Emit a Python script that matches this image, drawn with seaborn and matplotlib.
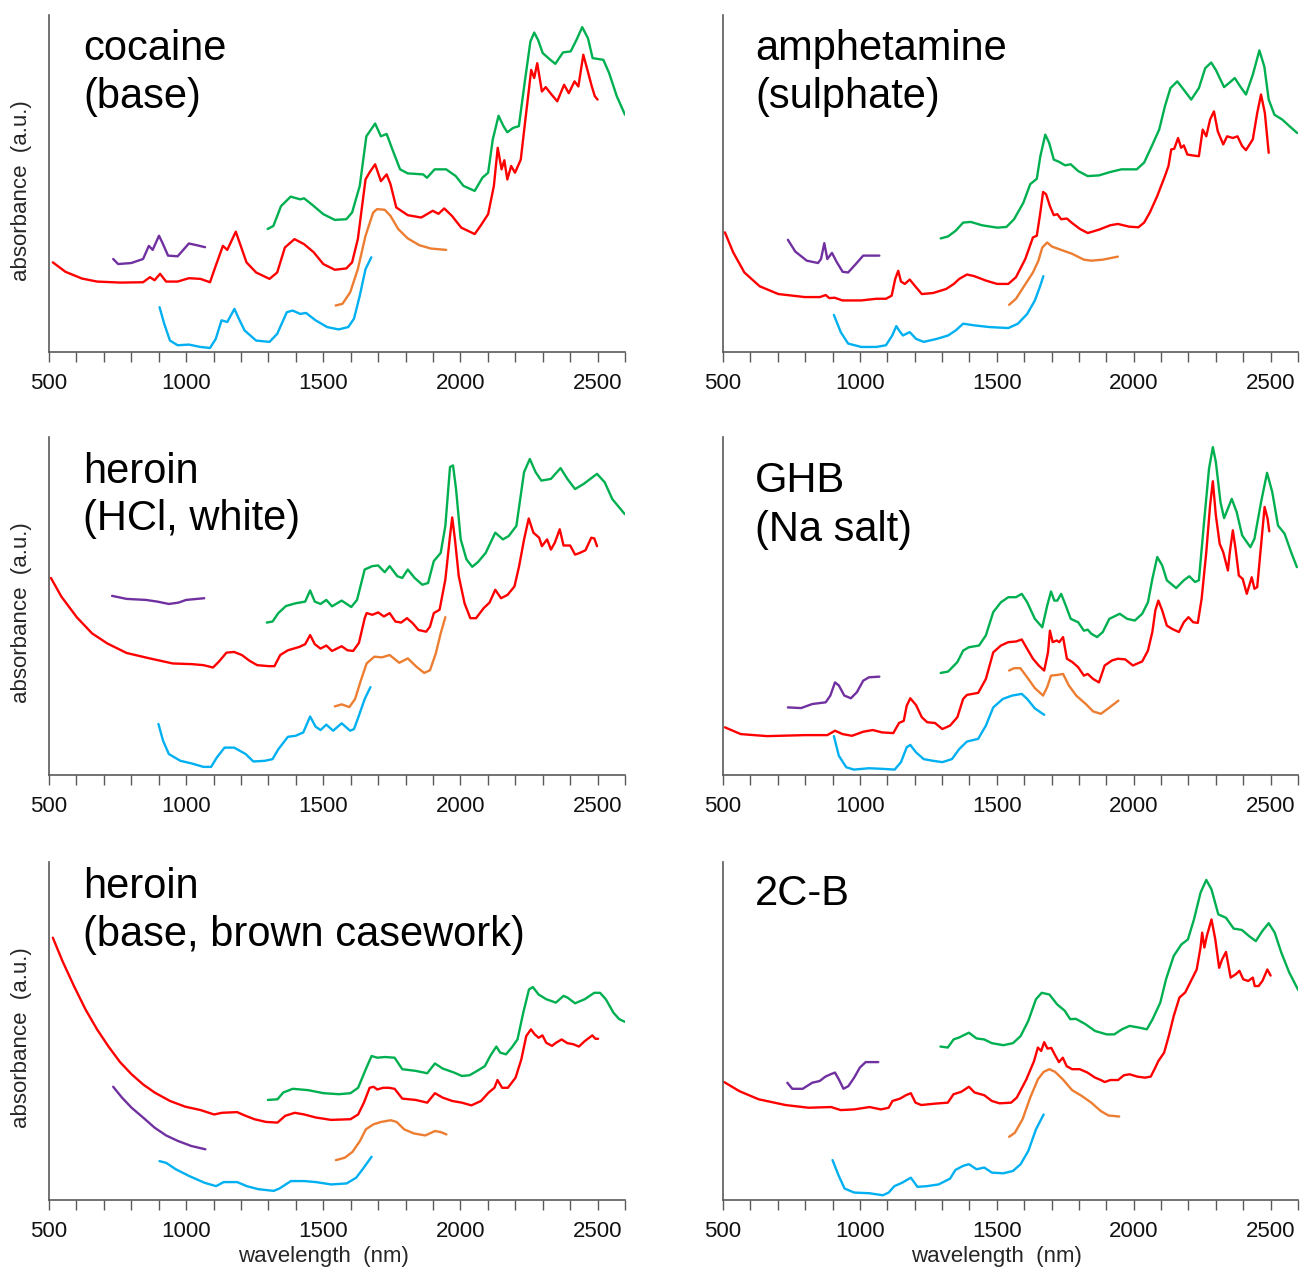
import matplotlib
matplotlib.use("Agg")
import matplotlib.pyplot as plt
from matplotlib.ticker import MultipleLocator
import pandas as pd
import seaborn as sns

# ---------------------------------------------------------------- cocaine (base)
coc_purple_wl = [734, 752, 800, 843, 864, 878, 901, 913, 934, 969, 1010, 1038, 1069]
coc_purple_ab = [27.6, 26.1, 26.4, 27.6, 31.5, 30.3, 34.5, 32.5, 28.6, 28.4, 32.2, 31.7, 31.1]
coc_red_wl = [514, 560, 620, 675, 760, 843, 868, 885, 905, 927, 969, 1010, 1052, 1087, 1108, 1134, 1150, 1181,
              1199, 1220, 1255, 1304, 1332, 1360, 1395, 1430, 1465, 1500, 1542, 1584, 1605, 1626, 1654, 1668,
              1689, 1710, 1731, 1745, 1766, 1808, 1857, 1899, 1920, 1941, 1969, 2003, 2052, 2073, 2101, 2122,
              2136, 2150, 2160, 2171, 2185, 2199, 2220, 2234, 2258, 2269, 2280, 2297, 2311, 2332, 2353, 2378,
              2395, 2416, 2430, 2448, 2458, 2479, 2490, 2500]
coc_red_ab = [26.6, 23.8, 21.8, 20.9, 20.6, 20.7, 22.2, 21.3, 23.2, 20.9, 20.9, 21.9, 21.7, 20.7, 25.6, 31.5,
              30.3, 35.7, 31.5, 26.6, 23.6, 21.7, 23.6, 31.0, 33.5, 32.0, 29.6, 26.1, 24.4, 24.8, 26.6, 33.5,
              51.2, 53.2, 55.7, 50.7, 52.7, 49.8, 42.9, 40.6, 39.9, 41.9, 41.0, 42.6, 40.4, 36.9, 35.0, 37.4,
              40.9, 49.3, 60.6, 54.2, 56.9, 51.2, 55.2, 53.2, 57.1, 67.0, 83.7, 81.3, 85.7, 77.3, 78.6, 76.4,
              74.4, 79.3, 76.8, 80.3, 78.8, 88.2, 85.2, 78.8, 75.9, 74.9]
coc_green_wl = [1297, 1318, 1346, 1381, 1416, 1430, 1458, 1500, 1542, 1584, 1605, 1633, 1657, 1689, 1710, 1731,
                1752, 1780, 1808, 1864, 1878, 1906, 1948, 1983, 2011, 2052, 2080, 2101, 2118, 2139, 2157, 2171,
                2192, 2213, 2234, 2255, 2269, 2283, 2300, 2325, 2346, 2374, 2402, 2423, 2444, 2465, 2482, 2521,
                2542, 2570, 2600]
coc_green_ab = [36.5, 37.4, 43.3, 46.1, 45.3, 45.6, 43.8, 40.9, 39.2, 39.4, 41.4, 49.3, 64.0, 67.8, 64.0, 64.7,
                60.1, 54.2, 53.0, 52.7, 51.7, 54.2, 54.2, 52.2, 49.3, 47.8, 51.7, 53.2, 63.1, 70.1, 67.0, 65.2,
                66.5, 67.0, 79.8, 92.1, 94.8, 92.6, 88.7, 86.9, 85.5, 88.9, 89.2, 92.6, 96.4, 93.1, 87.2, 86.7,
                82.8, 75.9, 70.4]
coc_orange_wl = [1545, 1570, 1598, 1626, 1654, 1682, 1696, 1724, 1745, 1773, 1808, 1850, 1892, 1948]
coc_orange_ab = [13.8, 14.3, 17.7, 24.6, 34.5, 41.4, 42.4, 42.2, 40.4, 36.5, 33.7, 31.7, 30.7, 30.3]
coc_blue_wl = [903, 920, 941, 969, 1010, 1052, 1087, 1108, 1129, 1150, 1176, 1192, 1213, 1255, 1304, 1332, 1367,
               1388, 1416, 1437, 1472, 1514, 1556, 1591, 1612, 1633, 1654, 1675]
coc_blue_ab = [13.3, 8.4, 3.4, 2.0, 2.2, 1.5, 1.2, 3.9, 9.4, 8.9, 12.8, 9.9, 6.4, 3.4, 3.0, 5.4, 11.8, 12.3, 11.3,
               11.6, 9.4, 7.4, 6.7, 7.4, 9.9, 16.7, 24.6, 28.1]

# ---------------------------------------------------------- amphetamine (sulphate)
amp_purple_wl = [737, 764, 806, 847, 858, 870, 881, 898, 916, 937, 957, 985, 1012, 1071]
amp_purple_ab = [33.3, 29.8, 27.1, 26.4, 27.6, 32.3, 27.6, 29.4, 26.6, 23.8, 23.6, 26.1, 28.6, 28.6]
amp_red_wl = [507, 537, 578, 634, 702, 799, 854, 875, 888, 908, 936, 1005, 1060, 1095, 1116, 1129, 1140, 1150,
              1164, 1182, 1198, 1226, 1267, 1315, 1343, 1363, 1391, 1418, 1460, 1501, 1542, 1570, 1604, 1632,
              1646, 1659, 1669, 1680, 1694, 1708, 1721, 1735, 1756, 1776, 1804, 1832, 1873, 1914, 1942, 1983,
              2017, 2038, 2059, 2086, 2114, 2127, 2137, 2148, 2162, 2173, 2183, 2196, 2217, 2238, 2252, 2265,
              2279, 2293, 2307, 2327, 2341, 2362, 2379, 2396, 2410, 2435, 2451, 2465, 2479, 2493]
amp_red_ab = [35.5, 29.6, 23.6, 19.5, 17.2, 16.3, 16.3, 16.9, 16.0, 16.1, 15.3, 15.3, 15.8, 15.8, 16.7, 21.7,
              24.1, 20.9, 20.2, 21.5, 19.9, 17.2, 17.5, 18.7, 20.2, 21.7, 23.0, 22.5, 21.2, 20.2, 20.2, 22.2,
              27.6, 34.0, 34.5, 41.4, 47.5, 46.8, 43.3, 40.6, 40.9, 39.4, 39.6, 38.2, 36.5, 35.3, 36.3, 37.6,
              38.0, 37.2, 37.0, 38.4, 41.4, 46.3, 52.2, 55.2, 60.1, 60.3, 63.5, 60.6, 61.3, 58.6, 58.3, 58.1,
              66.0, 64.0, 69.0, 71.4, 65.5, 61.6, 64.0, 63.5, 64.0, 61.1, 59.9, 63.1, 70.9, 76.4, 70.9, 59.1]
amp_green_wl = [1295, 1322, 1350, 1377, 1405, 1446, 1501, 1535, 1563, 1597, 1622, 1646, 1659, 1677, 1691, 1708,
                1728, 1749, 1770, 1797, 1832, 1873, 1914, 1955, 2011, 2038, 2066, 2093, 2114, 2134, 2159, 2183,
                2210, 2238, 2261, 2283, 2300, 2330, 2348, 2369, 2389, 2410, 2435, 2459, 2477, 2493, 2514, 2542,
                2569, 2597]
amp_green_ab = [33.7, 34.3, 36.0, 38.4, 38.6, 37.6, 36.9, 37.1, 39.4, 44.3, 49.8, 51.4, 58.1, 64.5, 62.1, 57.1,
                56.4, 55.4, 55.7, 53.7, 52.2, 52.4, 53.4, 54.2, 54.2, 56.2, 61.1, 66.0, 72.9, 78.3, 80.3, 77.8,
                74.9, 78.3, 84.2, 85.9, 83.7, 78.6, 79.8, 81.3, 78.8, 76.4, 82.3, 89.5, 84.7, 74.9, 70.4, 69.0,
                67.0, 65.0]
amp_orange_wl = [1545, 1570, 1597, 1632, 1652, 1666, 1684, 1701, 1735, 1776, 1818, 1845, 1887, 1942]
amp_orange_ab = [14.0, 15.8, 19.2, 23.6, 27.1, 31.0, 32.5, 31.3, 30.3, 29.1, 27.4, 27.1, 27.4, 28.3]
amp_blue_wl = [905, 930, 957, 1005, 1060, 1095, 1118, 1133, 1143, 1157, 1182, 1205, 1233, 1281, 1322, 1350, 1377,
               1418, 1473, 1542, 1577, 1611, 1639, 1659, 1670]
amp_blue_ab = [11.0, 5.9, 2.5, 1.5, 1.5, 2.0, 4.9, 7.7, 6.4, 4.9, 5.9, 3.9, 3.0, 3.9, 4.9, 6.4, 8.4, 7.9, 7.4,
               7.1, 8.4, 11.3, 15.3, 19.7, 22.5]

# ----------------------------------------------------------- heroin (HCl, white)
hhc_purple_wl = [730, 783, 853, 895, 937, 972, 1000, 1066]
hhc_purple_ab = [53.0, 52.1, 51.8, 51.3, 50.6, 51.0, 51.8, 52.3]
hhc_red_wl = [507, 545, 601, 657, 713, 783, 867, 951, 1021, 1063, 1098, 1119, 1147, 1175, 1203, 1231, 1259, 1301,
              1322, 1343, 1371, 1413, 1434, 1452, 1469, 1490, 1511, 1532, 1567, 1588, 1609, 1630, 1651, 1658,
              1679, 1700, 1721, 1742, 1763, 1784, 1805, 1826, 1847, 1875, 1889, 1903, 1924, 1945, 1962, 1970,
              1980, 1994, 2015, 2036, 2057, 2085, 2106, 2127, 2148, 2172, 2197, 2214, 2232, 2249, 2266, 2287,
              2297, 2316, 2330, 2344, 2362, 2376, 2400, 2418, 2435, 2456, 2477, 2488, 2498]
hhc_red_ab = [58.3, 52.8, 46.7, 41.9, 38.9, 36.1, 34.5, 33.0, 32.8, 32.5, 31.8, 33.5, 36.2, 36.4, 35.5, 33.8,
              32.5, 32.2, 32.2, 35.5, 36.9, 37.9, 38.7, 41.4, 38.7, 37.4, 38.3, 36.7, 38.1, 36.9, 36.7, 39.1,
              46.4, 47.9, 47.4, 48.1, 46.9, 47.9, 45.4, 45.1, 46.4, 44.9, 42.9, 42.4, 43.9, 47.9, 48.9, 57.8,
              70.7, 76.2, 69.7, 58.8, 50.8, 46.4, 46.4, 49.4, 51.0, 54.8, 52.3, 53.3, 55.8, 61.8, 69.7, 75.9,
              71.7, 70.2, 67.7, 69.7, 66.7, 68.7, 72.7, 67.9, 67.9, 65.2, 65.7, 66.5, 70.2, 70.0, 67.7]
hhc_green_wl = [1294, 1315, 1336, 1364, 1399, 1434, 1452, 1469, 1490, 1511, 1532, 1567, 1602, 1623, 1651, 1679,
                1700, 1724, 1742, 1770, 1788, 1808, 1833, 1861, 1882, 1903, 1928, 1945, 1962, 1973, 1984, 2001,
                2022, 2043, 2064, 2092, 2127, 2155, 2176, 2204, 2232, 2253, 2274, 2295, 2330, 2365, 2390, 2418,
                2449, 2498, 2526, 2554, 2599]
hhc_green_ab = [45.1, 45.4, 47.9, 50.0, 50.8, 51.3, 54.6, 51.3, 50.6, 51.8, 49.9, 51.6, 49.7, 51.8, 60.8, 61.8,
                62.0, 60.0, 61.8, 58.8, 58.3, 60.8, 58.3, 56.3, 56.8, 63.3, 65.7, 73.7, 91.1, 91.6, 84.6, 69.7,
                63.8, 61.6, 63.0, 65.7, 71.7, 69.7, 70.7, 73.7, 89.6, 93.5, 89.6, 87.1, 87.6, 90.8, 87.6, 84.6,
                86.1, 89.1, 86.6, 81.6, 77.2]
hhc_orange_wl = [1542, 1567, 1595, 1616, 1637, 1658, 1686, 1714, 1742, 1777, 1808, 1840, 1868, 1889, 1910, 1928,
                 1945]
hhc_orange_ab = [20.3, 20.9, 20.1, 22.5, 28.0, 33.0, 35.0, 34.8, 35.5, 33.2, 34.5, 32.0, 30.2, 31.0, 35.9, 41.9,
                 46.7]
hhc_blue_wl = [899, 916, 937, 979, 1021, 1063, 1091, 1112, 1140, 1175, 1217, 1245, 1287, 1315, 1336, 1371, 1399,
               1427, 1452, 1472, 1490, 1511, 1536, 1567, 1598, 1612, 1630, 1651, 1672]
hhc_blue_ab = [15.1, 10.1, 6.2, 4.2, 3.4, 2.4, 2.4, 5.2, 8.1, 8.1, 6.2, 4.0, 4.2, 4.7, 7.6, 11.3, 11.6, 12.6, 17.3,
               14.3, 13.3, 14.9, 13.1, 15.3, 13.1, 13.6, 17.6, 22.5, 26.0]

# --------------------------------------------------------------- GHB (Na salt)
ghb_purple_wl = [737, 785, 826, 875, 892, 909, 923, 943, 967, 989, 1012, 1033, 1071]
ghb_purple_ab = [20.0, 19.8, 21.0, 21.5, 23.5, 27.4, 26.5, 23.5, 22.7, 24.5, 27.9, 28.9, 29.1]
ghb_red_wl = [507, 565, 661, 799, 881, 909, 937, 971, 1012, 1047, 1081, 1122, 1143, 1160, 1171, 1184, 1205, 1226,
              1246, 1274, 1301, 1329, 1356, 1377, 1391, 1432, 1460, 1487, 1515, 1542, 1570, 1591, 1611, 1632,
              1653, 1673, 1687, 1694, 1704, 1719, 1728, 1742, 1756, 1776, 1797, 1818, 1832, 1852, 1873, 1894,
              1921, 1942, 1969, 1997, 2031, 2052, 2068, 2079, 2090, 2104, 2121, 2141, 2165, 2183, 2200, 2217,
              2234, 2248, 2265, 2279, 2289, 2300, 2314, 2327, 2344, 2351, 2362, 2372, 2384, 2398, 2413, 2431,
              2441, 2451, 2465, 2478, 2489, 2495]
ghb_red_ab = [14.1, 12.1, 11.5, 11.8, 11.8, 13.1, 12.1, 11.6, 12.8, 13.3, 12.6, 12.4, 15.4, 16.0, 20.5, 22.7,
              20.7, 17.1, 15.6, 15.4, 13.6, 14.6, 17.1, 22.5, 23.7, 24.3, 28.4, 36.3, 38.3, 39.3, 39.5, 40.1,
              37.3, 34.4, 32.4, 30.9, 36.3, 42.7, 39.3, 39.8, 39.3, 40.8, 34.4, 33.4, 31.9, 29.4, 29.9, 28.4,
              27.4, 32.4, 33.9, 34.4, 34.2, 32.4, 33.6, 36.8, 42.3, 48.7, 51.6, 48.7, 44.2, 43.2, 42.3, 45.2,
              46.7, 45.2, 45.0, 52.1, 65.9, 79.8, 86.9, 76.8, 68.4, 65.9, 60.5, 65.9, 72.4, 66.9, 59.0, 58.0,
              53.6, 58.5, 55.1, 55.6, 67.9, 79.3, 75.8, 72.1]
ghb_green_wl = [1295, 1322, 1356, 1377, 1398, 1435, 1460, 1487, 1515, 1542, 1570, 1591, 1611, 1639, 1666, 1684,
                1698, 1710, 1721, 1735, 1752, 1770, 1797, 1818, 1832, 1845, 1866, 1887, 1911, 1949, 1976, 2004,
                2031, 2052, 2068, 2086, 2104, 2121, 2155, 2183, 2203, 2224, 2238, 2258, 2275, 2289, 2300, 2317,
                2330, 2344, 2358, 2376, 2396, 2426, 2441, 2465, 2487, 2506, 2527, 2551, 2575, 2596]
ghb_green_ab = [30.2, 30.6, 33.4, 36.8, 37.8, 38.3, 41.3, 48.2, 51.1, 52.6, 52.6, 53.6, 51.1, 46.2, 43.7, 50.1,
                54.3, 51.6, 51.6, 53.6, 50.1, 46.2, 45.2, 42.7, 43.0, 41.8, 40.8, 42.3, 46.2, 47.7, 46.2, 45.7,
                47.7, 51.1, 58.0, 64.5, 62.0, 57.6, 55.3, 57.6, 58.8, 57.1, 57.6, 75.8, 90.6, 97.0, 92.6, 80.7,
                76.0, 78.8, 81.7, 77.8, 70.9, 67.4, 69.9, 80.7, 89.4, 83.7, 73.8, 71.4, 65.9, 61.5]
ghb_orange_wl = [1545, 1563, 1586, 1611, 1639, 1669, 1684, 1698, 1721, 1742, 1763, 1790, 1825, 1852, 1880, 1907,
                 1944]
ghb_orange_ab = [30.9, 31.6, 31.6, 28.9, 25.7, 23.5, 26.0, 29.4, 29.6, 29.9, 26.5, 23.5, 21.0, 18.8, 18.1, 19.7,
                 22.0]
ghb_blue_wl = [905, 923, 950, 978, 1033, 1088, 1127, 1150, 1171, 1184, 1205, 1233, 1267, 1301, 1336, 1363, 1391,
               1432, 1460, 1487, 1522, 1556, 1591, 1611, 1639, 1673]
ghb_blue_ab = [11.5, 5.7, 2.3, 1.6, 2.0, 1.8, 1.6, 3.8, 8.2, 8.9, 6.7, 4.7, 4.2, 3.8, 4.7, 7.7, 9.9, 10.7, 14.6,
               20.0, 22.5, 23.5, 24.0, 22.5, 19.7, 17.8]

# ---------------------------------------------- heroin (base, brown casework)
hbb_purple_wl = [734, 766, 801, 843, 885, 927, 969, 1018, 1070]
hbb_purple_ab = [33.5, 30.3, 27.3, 24.4, 21.4, 19.1, 17.5, 16.0, 15.0]
hbb_red_wl = [514, 549, 591, 633, 675, 717, 759, 801, 843, 885, 941, 997, 1053, 1102, 1130, 1186, 1214, 1249,
              1291, 1333, 1361, 1396, 1431, 1473, 1529, 1599, 1627, 1648, 1669, 1683, 1697, 1718, 1739, 1760,
              1788, 1837, 1879, 1907, 1935, 1970, 2005, 2040, 2075, 2103, 2124, 2135, 2152, 2173, 2201, 2222,
              2240, 2257, 2271, 2285, 2299, 2313, 2334, 2348, 2369, 2390, 2411, 2432, 2453, 2481, 2492, 2502]
hbb_red_ab = [77.6, 70.7, 63.3, 56.4, 50.5, 45.4, 40.8, 37.2, 34.2, 31.8, 29.3, 27.6, 26.6, 25.3, 25.8, 26.0,
              25.0, 23.9, 23.1, 22.9, 24.9, 25.8, 25.3, 24.4, 23.7, 23.9, 25.3, 28.8, 33.2, 33.5, 32.7, 33.2,
              33.2, 32.9, 30.0, 29.6, 28.8, 31.6, 30.3, 29.3, 28.8, 28.0, 29.3, 31.8, 33.2, 35.5, 33.2, 33.2,
              36.2, 41.6, 48.5, 50.5, 49.0, 48.0, 48.7, 46.5, 45.6, 46.5, 47.5, 46.4, 46.1, 45.4, 47.0, 48.7,
              47.7, 47.7]
hbb_green_wl = [1298, 1333, 1354, 1389, 1445, 1501, 1557, 1599, 1627, 1655, 1676, 1697, 1725, 1760, 1788, 1837,
                1879, 1907, 1935, 1977, 2005, 2033, 2061, 2089, 2110, 2131, 2145, 2166, 2187, 2208, 2229, 2250,
                2264, 2285, 2313, 2348, 2376, 2390, 2418, 2453, 2488, 2509, 2530, 2558, 2579, 2600]
hbb_green_ab = [29.6, 29.8, 31.8, 32.9, 32.5, 31.6, 31.3, 31.6, 33.2, 38.7, 42.6, 42.1, 42.3, 42.1, 38.7, 38.2,
                37.5, 40.4, 38.9, 37.7, 36.7, 36.9, 38.2, 39.6, 42.8, 45.4, 43.6, 43.1, 45.1, 47.5, 55.4, 62.3,
                63.0, 60.8, 59.4, 58.4, 60.4, 59.9, 58.2, 59.4, 61.3, 61.3, 59.4, 55.4, 53.5, 52.7]
hbb_orange_wl = [1546, 1578, 1606, 1634, 1655, 1683, 1711, 1746, 1767, 1795, 1830, 1872, 1907, 1928, 1949]
hbb_orange_ab = [11.8, 12.5, 14.2, 17.5, 20.9, 22.4, 23.1, 23.6, 23.1, 20.9, 19.7, 19.1, 20.4, 20.1, 19.4]
hbb_blue_wl = [903, 927, 962, 1011, 1067, 1109, 1137, 1186, 1221, 1263, 1319, 1340, 1382, 1431, 1473, 1529, 1585,
               1620, 1648, 1676]
hbb_blue_ab = [11.5, 11.0, 9.1, 7.1, 5.1, 4.1, 5.3, 5.3, 4.1, 3.2, 2.7, 3.4, 5.6, 5.6, 5.3, 4.6, 4.9, 6.6, 9.6,
               12.8]

# ------------------------------------------------------------------------ 2C-B
cb_purple_wl = [735, 753, 791, 826, 853, 874, 893, 909, 923, 940, 958, 979, 1000, 1021, 1049, 1067]
cb_purple_ab = [34.7, 32.9, 32.9, 34.7, 35.2, 36.5, 37.2, 37.7, 35.7, 32.9, 33.7, 36.2, 39.2, 40.8, 40.8, 40.8]
cb_red_wl = [504, 560, 630, 728, 812, 895, 930, 979, 1035, 1077, 1105, 1119, 1147, 1168, 1186, 1203, 1224, 1273,
             1321, 1342, 1370, 1398, 1419, 1454, 1482, 1510, 1552, 1573, 1608, 1636, 1650, 1662, 1673, 1685,
             1699, 1713, 1727, 1741, 1755, 1775, 1803, 1831, 1859, 1880, 1894, 1915, 1943, 1964, 1985, 2013,
             2041, 2062, 2076, 2090, 2111, 2128, 2146, 2167, 2188, 2209, 2230, 2244, 2250, 2258, 2267, 2284,
             2298, 2312, 2323, 2337, 2354, 2373, 2386, 2400, 2418, 2435, 2442, 2456, 2470, 2488, 2500]
cb_red_ab = [34.9, 32.2, 29.8, 28.1, 27.3, 27.5, 26.6, 26.8, 27.5, 26.8, 27.3, 29.3, 30.0, 31.0, 31.6, 28.8,
             28.1, 28.5, 28.8, 31.3, 32.0, 33.5, 31.8, 31.0, 29.3, 28.6, 28.8, 30.3, 35.7, 41.1, 45.1, 44.1,
             46.7, 44.8, 45.0, 42.8, 40.8, 42.1, 39.6, 38.7, 38.7, 37.7, 36.2, 35.5, 34.9, 35.5, 35.5, 36.9,
             37.2, 36.5, 36.2, 36.5, 38.7, 41.1, 43.6, 48.5, 54.4, 59.9, 61.4, 64.8, 68.2, 74.7, 79.1, 74.7,
             78.1, 83.0, 77.1, 68.7, 71.2, 73.4, 65.8, 66.8, 67.8, 65.3, 64.8, 65.8, 63.3, 63.3, 64.8, 68.2, 66.4]
cb_green_wl = [1294, 1321, 1342, 1363, 1398, 1426, 1454, 1482, 1524, 1559, 1587, 1615, 1643, 1664, 1692, 1720,
               1748, 1768, 1789, 1824, 1859, 1901, 1929, 1957, 1985, 2020, 2048, 2069, 2097, 2118, 2146, 2174,
               2198, 2220, 2244, 2265, 2284, 2309, 2337, 2365, 2395, 2421, 2446, 2470, 2493, 2515, 2539, 2568,
               2601]
cb_green_ab = [45.4, 45.1, 47.5, 48.1, 49.5, 47.8, 47.5, 46.4, 45.8, 46.4, 48.5, 53.0, 59.4, 61.3, 60.8, 57.9,
               56.0, 53.5, 53.6, 52.0, 50.0, 49.0, 49.0, 50.5, 51.5, 51.0, 50.5, 53.5, 58.4, 65.3, 72.2, 75.6,
               77.1, 83.0, 90.9, 94.7, 91.9, 84.5, 83.5, 80.3, 79.9, 78.1, 76.6, 79.6, 81.9, 79.1, 73.2, 67.3, 62.1]
cb_orange_wl = [1545, 1566, 1594, 1622, 1650, 1671, 1692, 1713, 1741, 1775, 1810, 1845, 1880, 1908, 1947]
cb_orange_ab = [18.7, 19.9, 23.9, 30.3, 35.7, 37.9, 38.7, 37.9, 35.7, 32.5, 30.8, 28.8, 26.3, 25.0, 24.7]
cb_blue_wl = [900, 923, 944, 979, 1035, 1084, 1105, 1126, 1154, 1186, 1210, 1245, 1287, 1329, 1349, 1377, 1398,
              1426, 1454, 1482, 1524, 1559, 1587, 1615, 1643, 1671]
cb_blue_ab = [11.8, 7.1, 3.4, 2.2, 2.0, 1.4, 2.2, 4.1, 5.1, 6.6, 3.9, 4.1, 4.6, 6.3, 8.9, 10.1, 10.6, 9.1, 9.6,
              8.1, 7.9, 8.6, 10.6, 14.5, 20.9, 25.3]

# ------------------------------------------------------------------ styling
SERIES_COLORS = {
    "purple": "#7030A0",
    "red": "#FF0000",
    "green": "#00B050",
    "orange": "#ED7D31",
    "blue": "#00B0F0",
}
SPINE_COLOR = "#5a5a5a"

panels = [
    (["cocaine", "(base)"], [45, 93], {
        "purple": (coc_purple_wl, coc_purple_ab), "red": (coc_red_wl, coc_red_ab),
        "green": (coc_green_wl, coc_green_ab), "orange": (coc_orange_wl, coc_orange_ab),
        "blue": (coc_blue_wl, coc_blue_ab)}),
    (["amphetamine", "(sulphate)"], [45, 93], {
        "purple": (amp_purple_wl, amp_purple_ab), "red": (amp_red_wl, amp_red_ab),
        "green": (amp_green_wl, amp_green_ab), "orange": (amp_orange_wl, amp_orange_ab),
        "blue": (amp_blue_wl, amp_blue_ab)}),
    (["heroin", "(HCl, white)"], [46, 93], {
        "purple": (hhc_purple_wl, hhc_purple_ab), "red": (hhc_red_wl, hhc_red_ab),
        "green": (hhc_green_wl, hhc_green_ab), "orange": (hhc_orange_wl, hhc_orange_ab),
        "blue": (hhc_blue_wl, hhc_blue_ab)}),
    (["GHB", "(Na salt)"], [55, 104], {
        "purple": (ghb_purple_wl, ghb_purple_ab), "red": (ghb_red_wl, ghb_red_ab),
        "green": (ghb_green_wl, ghb_green_ab), "orange": (ghb_orange_wl, ghb_orange_ab),
        "blue": (ghb_blue_wl, ghb_blue_ab)}),
    (["heroin", "(base, brown casework)"], [36, 84], {
        "purple": (hbb_purple_wl, hbb_purple_ab), "red": (hbb_red_wl, hbb_red_ab),
        "green": (hbb_green_wl, hbb_green_ab), "orange": (hbb_orange_wl, hbb_orange_ab),
        "blue": (hbb_blue_wl, hbb_blue_ab)}),
    (["2C-B"], [43], {
        "purple": (cb_purple_wl, cb_purple_ab), "red": (cb_red_wl, cb_red_ab),
        "green": (cb_green_wl, cb_green_ab), "orange": (cb_orange_wl, cb_orange_ab),
        "blue": (cb_blue_wl, cb_blue_ab)}),
]

sns.set_style("ticks")
plt.rcParams["font.family"] = ["Liberation Sans", "DejaVu Sans"]

W, H = 1303, 1272
fig = plt.figure(figsize=(W / 100, H / 100), dpi=100)

col_px = [(49, 625), (723, 1298)]
row_px = [(15, 352), (437, 775), (862, 1200)]

for idx, (title_lines, baselines, curves) in enumerate(panels):
    r, c = divmod(idx, 2)
    x0, x1 = col_px[c]
    y0, y1 = row_px[r]
    ax = fig.add_axes([x0 / W, 1 - y1 / H, (x1 - x0) / W, (y1 - y0) / H])

    frames = []
    for name, (wl, ab) in curves.items():
        frames.append(pd.DataFrame({"wavelength": wl, "absorbance": ab, "series": name}))
    df = pd.concat(frames, ignore_index=True)

    sns.lineplot(data=df, x="wavelength", y="absorbance", hue="series",
                 palette=SERIES_COLORS, estimator=None, sort=False,
                 linewidth=1.7, legend=False, ax=ax)

    ax.set_xlim(500, 2600)
    ax.set_ylim(0, 100)
    ax.set_yticks([])
    ax.xaxis.set_major_locator(MultipleLocator(500))
    ax.xaxis.set_minor_locator(MultipleLocator(100))
    ax.tick_params(axis="x", which="both", direction="out", length=7, width=1.0,
                   color=SPINE_COLOR, labelsize=16, pad=8, labelcolor="#111111")
    for side in ("top", "right"):
        ax.spines[side].set_visible(False)
    for side in ("left", "bottom"):
        ax.spines[side].set_color(SPINE_COLOR)
        ax.spines[side].set_linewidth(1.2)

    if c == 0:
        ax.set_ylabel("absorbance  (a.u.)", fontsize=16, color="#262626")
        ax.yaxis.set_label_coords(-0.03, 0.48)
    else:
        ax.set_ylabel("")
    if r == 2:
        ax.set_xlabel("wavelength  (nm)", fontsize=16, color="#262626")
        ax.xaxis.set_label_coords(0.476, -0.135)
    else:
        ax.set_xlabel("")

    height_px = y1 - y0
    tx = 0.059 if c == 0 else 0.056
    for line, base in zip(title_lines, baselines):
        ax.text(tx, 1 - base / height_px, line, transform=ax.transAxes,
                fontsize=30, va="baseline", ha="left", color="#000000")

fig.savefig("out.png", dpi=100)
